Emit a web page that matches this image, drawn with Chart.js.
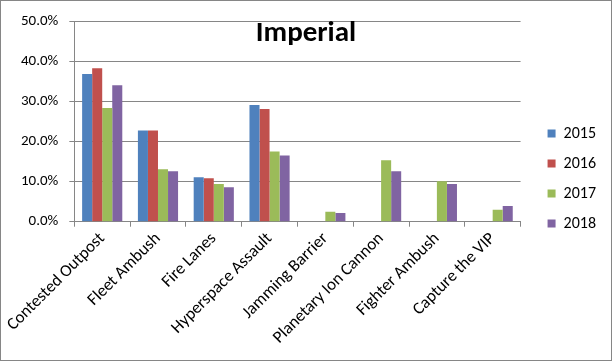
<!DOCTYPE html>
<html>
<head>
<meta charset="utf-8">
<script src="https://cdn.jsdelivr.net/npm/chart.js@4"></script>
<style>
    body { margin: 0; background: #fff; }
    #wrap {
        position: relative;
        width: 612px;
        height: 361px;
        box-sizing: border-box;
        border: 1px solid #868686;
    }
    #title {
        position: absolute;
        left: 0;
        width: 610px;
        top: 12px;
        text-align: center;
        font-family: Carlito, Lato, sans-serif;
        font-weight: bold;
        font-size: 29px;
        color: #000;
        pointer-events: none;
    }
</style>
</head>
<body>
<div id="wrap">
    <canvas id="chart" width="610" height="359"></canvas>
    <div id="title">Imperial</div>
</div>
<script>
// Categories and series (percent of games)
const categories = ['Contested Outpost', 'Fleet Ambush', 'Fire Lanes', 'Hyperspace Assault',
    'Jamming Barrier', 'Planetary Ion Cannon', 'Fighter Ambush', 'Capture the VIP'];
const years = ['2015', '2016', '2017', '2018'];
const values2015 = [36.8, 22.7, 11.1, 29.1, null, null, null, null];
const values2016 = [38.2, 22.7, 10.8, 28.1, null, null, null, null];
const values2017 = [28.3, 13.1, 9.4, 17.5, 2.5, 15.3, 10.1, 3.0];
const values2018 = [34.0, 12.6, 8.6, 16.5, 2.2, 12.6, 9.4, 3.9];
const yTicks = [0, 10, 20, 30, 40, 50];

const colors = ['#4F81BD', '#C0504D', '#9BBB59', '#8064A2'];
const FONT = 'Carlito, Lato, sans-serif';

const series = [values2015, values2016, values2017, values2018];

const ctx = document.getElementById('chart').getContext('2d');
new Chart(ctx, {
    type: 'bar',
    data: {
        labels: categories,
        datasets: series.map((data, i) => ({
            label: years[i],
            data: data,
            backgroundColor: colors[i],
            borderWidth: 0,
            categoryPercentage: 0.72,
            barPercentage: 1.0
        }))
    },
    options: {
        responsive: false,
        animation: false,
        layout: { padding: { top: -2, left: 9, right: 5, bottom: 10 } },
        plugins: {
            title: { display: false },
            tooltip: { enabled: false },
            legend: {
                position: 'right',
                align: 'center',
                // blank title just nudges the items down a little
                title: {
                    display: true,
                    text: ' ',
                    padding: 0,
                    font: { size: 8, lineHeight: 1 }
                },
                labels: {
                    boxWidth: 8,
                    boxHeight: 8,
                    padding: 14,
                    color: '#000',
                    font: { family: FONT, size: 16 }
                }
            }
        },
        scales: {
            x: {
                offset: true,
                grid: {
                    offset: true,
                    drawOnChartArea: false,
                    tickLength: 5,
                    color: '#868686'
                },
                border: { color: '#868686' },
                ticks: {
                    minRotation: 45,
                    maxRotation: 45,
                    color: '#000',
                    padding: 2,
                    autoSkip: false,
                    font: { family: FONT, size: 17 }
                }
            },
            y: {
                min: 0,
                max: 50,
                afterBuildTicks: axis => {
                    axis.ticks = yTicks.map(v => ({ value: v }));
                },
                grid: {
                    color: '#868686',
                    tickLength: 5
                },
                border: { color: '#868686' },
                ticks: {
                    color: '#000',
                    padding: 11,
                    font: { family: FONT, size: 15 },
                    callback: v => v.toFixed(1) + '%'
                }
            },
            // empty right-hand spacer between plot and legend
            gap: {
                type: 'linear',
                position: 'right',
                display: true,
                grid: { display: false },
                border: { display: false },
                ticks: { display: false },
                afterFit: scale => { scale.width = 13; }
            }
        }
    }
});
</script>
</body>
</html>
